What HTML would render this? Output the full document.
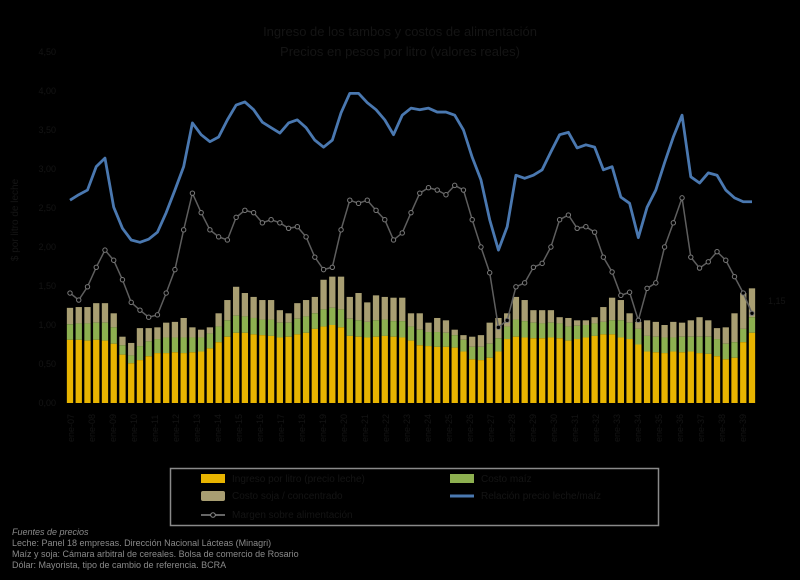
<!DOCTYPE html>
<html><head><meta charset="utf-8"><style>
body{margin:0;background:#000;width:800px;height:580px;overflow:hidden;font-family:"Liberation Sans",sans-serif}
svg{display:block}
</style></head><body>
<svg id="chart" width="800" height="580">
<rect width="800" height="580" fill="#000"/>
<text x="400" y="36" text-anchor="middle" font-size="13" fill="#141414">Ingreso de los tambos y costos de alimentación</text>
<text x="400" y="56" text-anchor="middle" font-size="13" fill="#141414">Precios en pesos por litro (valores reales)</text>
<text transform="translate(18,220) rotate(-90)" text-anchor="middle" font-size="10" fill="#141414">$ por litro de leche</text>
<g id="grid"></g><g id="bars"></g><g id="lines"></g><g id="xlabels"></g>
<text x="768" y="304" font-size="9" fill="#141414">1,15</text>
<g>
<rect x="170.5" y="468.5" width="488" height="57" fill="none" stroke="#8a8a8a" stroke-width="1.5"/>
<rect x="201" y="474" width="24" height="9" fill="#e8b400"/>
<text x="232" y="482" font-size="10" fill="#141414">Ingreso por litro (precio leche)</text>
<rect x="450" y="474" width="24" height="9" fill="#8db050"/>
<text x="481" y="482" font-size="10" fill="#141414">Costo maíz</text>
<rect x="201" y="491" width="24" height="10" rx="2" fill="#a89e72"/>
<text x="232" y="499" font-size="10" fill="#141414">Costo soja / concentrado</text>
<line x1="450" y1="496" x2="474" y2="496" stroke="#4a78b0" stroke-width="3"/>
<text x="481" y="499" font-size="10" fill="#141414">Relación precio leche/maíz</text>
<line x1="201" y1="515" x2="225" y2="515" stroke="#666" stroke-width="2"/>
<circle cx="213" cy="515" r="2.3" fill="#000" stroke="#888"/>
<text x="232" y="518" font-size="10" fill="#141414">Margen sobre alimentación</text>
</g>
<g font-size="9" fill="#8a8a8a">
<text x="12" y="535" font-style="italic">Fuentes de precios</text>
<text x="12" y="546">Leche: Panel 18 empresas. Dirección Nacional Lácteas (Minagri)</text>
<text x="12" y="557">Maíz y soja: Cámara arbitral de cereales. Bolsa de comercio de Rosario</text>
<text x="12" y="568">Dólar: Mayorista, tipo de cambio de referencia. BCRA</text>
</g>
</svg>
<script>
const yTicks=[0,0.5,1,1.5,2,2.5,3,3.5,4,4.5];
const yTickLabels=["0,00","0,50","1,00","1,50","2,00","2,50","3,00","3,50","4,00","4,50"];
const xTickLabels=["ene-07","ene-08","ene-09","ene-10","ene-11","ene-12","ene-13","ene-14","ene-15","ene-16","ene-17","ene-18","ene-19","ene-20","ene-21","ene-22","ene-23","ene-24","ene-25","ene-26","ene-27","ene-28","ene-29","ene-30","ene-31","ene-32","ene-33","ene-34","ene-35","ene-36","ene-37","ene-38","ene-39"];
const milkValues=[0.81,0.81,0.80,0.81,0.80,0.76,0.62,0.51,0.55,0.60,0.64,0.64,0.65,0.64,0.65,0.66,0.70,0.78,0.85,0.90,0.90,0.88,0.87,0.86,0.84,0.85,0.88,0.90,0.95,0.98,1.00,0.97,0.86,0.85,0.84,0.85,0.86,0.85,0.84,0.80,0.74,0.73,0.72,0.72,0.71,0.66,0.56,0.55,0.58,0.66,0.82,0.85,0.84,0.83,0.83,0.84,0.83,0.80,0.82,0.84,0.86,0.88,0.88,0.84,0.82,0.75,0.66,0.65,0.64,0.66,0.65,0.66,0.64,0.63,0.60,0.56,0.58,0.78,0.90];
const cornValues=[0.20,0.21,0.22,0.22,0.23,0.21,0.12,0.10,0.18,0.19,0.18,0.20,0.19,0.20,0.19,0.18,0.19,0.20,0.21,0.22,0.21,0.21,0.20,0.21,0.19,0.18,0.20,0.21,0.20,0.22,0.22,0.23,0.22,0.21,0.20,0.21,0.21,0.20,0.21,0.18,0.20,0.18,0.19,0.18,0.16,0.15,0.16,0.17,0.18,0.17,0.16,0.22,0.21,0.20,0.19,0.19,0.19,0.18,0.17,0.16,0.16,0.16,0.18,0.22,0.21,0.20,0.20,0.20,0.20,0.18,0.20,0.19,0.21,0.22,0.22,0.20,0.20,0.17,0.20];
const totalValues=[1.22,1.23,1.23,1.28,1.28,1.15,0.85,0.77,0.96,0.96,0.97,1.03,1.04,1.09,0.97,0.94,0.97,1.15,1.32,1.49,1.41,1.36,1.32,1.32,1.19,1.15,1.28,1.32,1.36,1.58,1.62,1.62,1.36,1.41,1.29,1.38,1.36,1.35,1.35,1.15,1.15,1.03,1.09,1.06,0.94,0.87,0.85,0.87,1.03,1.09,1.15,1.36,1.32,1.19,1.19,1.19,1.10,1.09,1.06,1.06,1.10,1.23,1.35,1.32,1.15,1.04,1.06,1.04,1.00,1.04,1.03,1.06,1.10,1.06,0.96,0.97,1.15,1.41,1.47];
const blueValues=[2.60,2.67,2.73,3.03,3.14,2.51,2.24,2.09,2.06,2.10,2.19,2.44,2.73,3.03,3.59,3.44,3.35,3.41,3.63,3.82,3.86,3.76,3.60,3.53,3.46,3.59,3.63,3.53,3.37,3.28,3.37,3.72,3.97,3.97,3.85,3.76,3.63,3.44,3.69,3.78,3.76,3.78,3.73,3.73,3.69,3.50,3.15,2.86,2.35,1.96,2.26,2.92,2.88,2.92,2.99,3.22,3.44,3.47,3.27,3.31,3.28,2.99,3.03,2.64,2.56,2.12,2.51,2.73,3.08,3.41,3.69,2.90,2.82,2.95,2.92,2.73,2.63,2.58,2.58];
const grayValues=[1.41,1.32,1.49,1.74,1.96,1.83,1.58,1.29,1.19,1.10,1.13,1.41,1.71,2.22,2.69,2.44,2.22,2.13,2.09,2.38,2.47,2.44,2.31,2.35,2.31,2.24,2.26,2.13,1.87,1.71,1.74,2.22,2.60,2.56,2.60,2.47,2.35,2.09,2.18,2.44,2.69,2.76,2.73,2.67,2.79,2.73,2.35,2.00,1.67,0.97,1.06,1.49,1.54,1.74,1.79,2.00,2.35,2.41,2.24,2.26,2.19,1.87,1.68,1.38,1.42,1.06,1.47,1.54,2.00,2.31,2.63,1.87,1.73,1.81,1.94,1.83,1.62,1.41,1.15];

const NS='http://www.w3.org/2000/svg';
const N=milkValues.length;
const x0=70,x1=752,yBase=403,pxPerUnit=78;
const yS=v=>yBase-v*pxPerUnit;
const step=(x1-x0)/(N-1);
const xS=i=>x0+i*step;
function mk(tag,attrs,parent){const e=document.createElementNS(NS,tag);for(const k in attrs)e.setAttribute(k,attrs[k]);parent.appendChild(e);return e;}
const grid=document.getElementById('grid');
yTicks.forEach((t,k)=>{
  const tx=mk('text',{x:56,y:yS(t)+3,'text-anchor':'end','font-size':9,fill:'#141414'},grid);
  tx.textContent=yTickLabels[k];
  
  
});
const bars=document.getElementById('bars');
const bw=step*0.72;
for(let i=0;i<N;i++){
  const x=xS(i)-bw/2;
  const tot=Math.max(totalValues[i],milkValues[i]+cornValues[i]);
  const t=mk('rect',{x:x,y:yS(tot),width:bw,height:yS(milkValues[i]+cornValues[i])-yS(tot),fill:'#a89e72'},bars);
  
  
  const g=mk('rect',{x:x,y:yS(milkValues[i]+cornValues[i]),width:bw,height:cornValues[i]*pxPerUnit,fill:'#8db050'},bars);
  
  
  const m=mk('rect',{x:x,y:yS(milkValues[i]),width:bw,height:milkValues[i]*pxPerUnit,fill:'#e8b400'},bars);
  
  
}
const lines=document.getElementById('lines');
const gp=mk('polyline',{points:grayValues.map((v,i)=>xS(i)+','+yS(v)).join(' '),fill:'none',stroke:'#5e5e5e','stroke-width':1.5},lines);


grayValues.forEach((v,i)=>{
  const c=mk('circle',{cx:xS(i),cy:yS(v),r:2.2,fill:'#000',stroke:'#7a7a7a','stroke-width':1},lines);
  
  
});
const bp=mk('polyline',{points:blueValues.map((v,i)=>xS(i)+','+yS(v)).join(' '),fill:'none',stroke:'#4a78b0','stroke-width':2.8,'stroke-linejoin':'round'},lines);


const xl=document.getElementById('xlabels');
xTickLabels.forEach((s,k)=>{
  const x=x0+4+k*21;
  const tx=mk('text',{transform:`translate(${x},442) rotate(-90)`,'font-size':9,fill:'#141414'},xl);
  tx.textContent=s;
  
  
});
</script>
</body></html>
